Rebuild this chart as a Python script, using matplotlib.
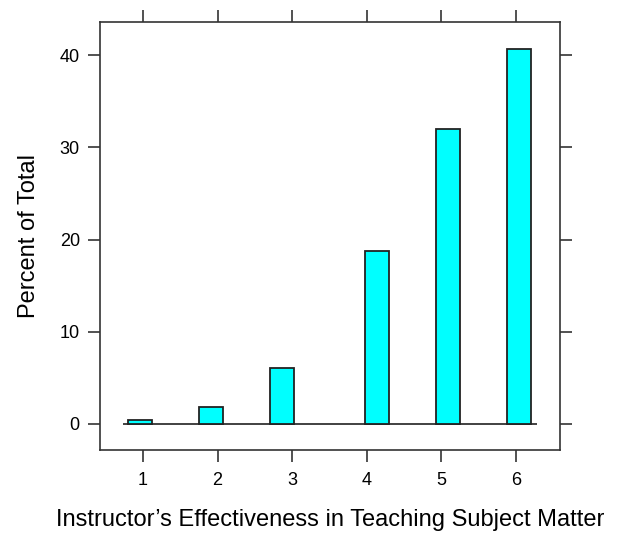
import numpy as np
import matplotlib
matplotlib.use('Agg')
import matplotlib.pyplot as plt

plt.rcParams['font.family'] = ['Liberation Sans', 'DejaVu Sans']

# histogram of ratings 1..6, percent of total
ratings = [1, 2, 3, 4, 5, 6]
percent = [0.47, 1.87, 6.1, 18.8, 32.0, 40.7]
n_bins = 17
lo, hi = 0.8, 6.2

breaks = np.linspace(lo, hi, n_bins + 1)
width = breaks[1] - breaks[0]
idx = np.searchsorted(breaks, ratings, side='right') - 1
lefts = breaks[idx]

fig = plt.figure(figsize=(6.17, 5.34), dpi=100)
ax = fig.add_axes([100/617, 1-450/534, 460/617, 428/534])

line_col = '#333333'
ax.hlines(0, 0.73, 6.28, color=line_col, lw=1.3, zorder=1)
ax.bar(lefts, percent, width=width, align='edge', color='#00FFFF',
       edgecolor='#222222', linewidth=1.3, zorder=2)

ax.set_xlim(0.424, 6.59)
ax.set_ylim(-2.82, 43.6)
ax.set_xticks(ratings)
ax.set_yticks([0, 10, 20, 30, 40])
ax.tick_params(direction='out', length=8.5, width=1.2, color=line_col,
               top=True, right=True, labeltop=False, labelright=False,
               labelsize=13, pad=6)
ax.tick_params(axis='x', pad=7)
for s in ax.spines.values():
    s.set_color(line_col)
    s.set_linewidth(1.2)

ax.set_xlabel('Instructor’s Effectiveness in Teaching Subject Matter',
              fontsize=17, labelpad=15)
ax.set_ylabel('Percent of Total', fontsize=17, labelpad=14)

fig.savefig('out.png', dpi=100)
